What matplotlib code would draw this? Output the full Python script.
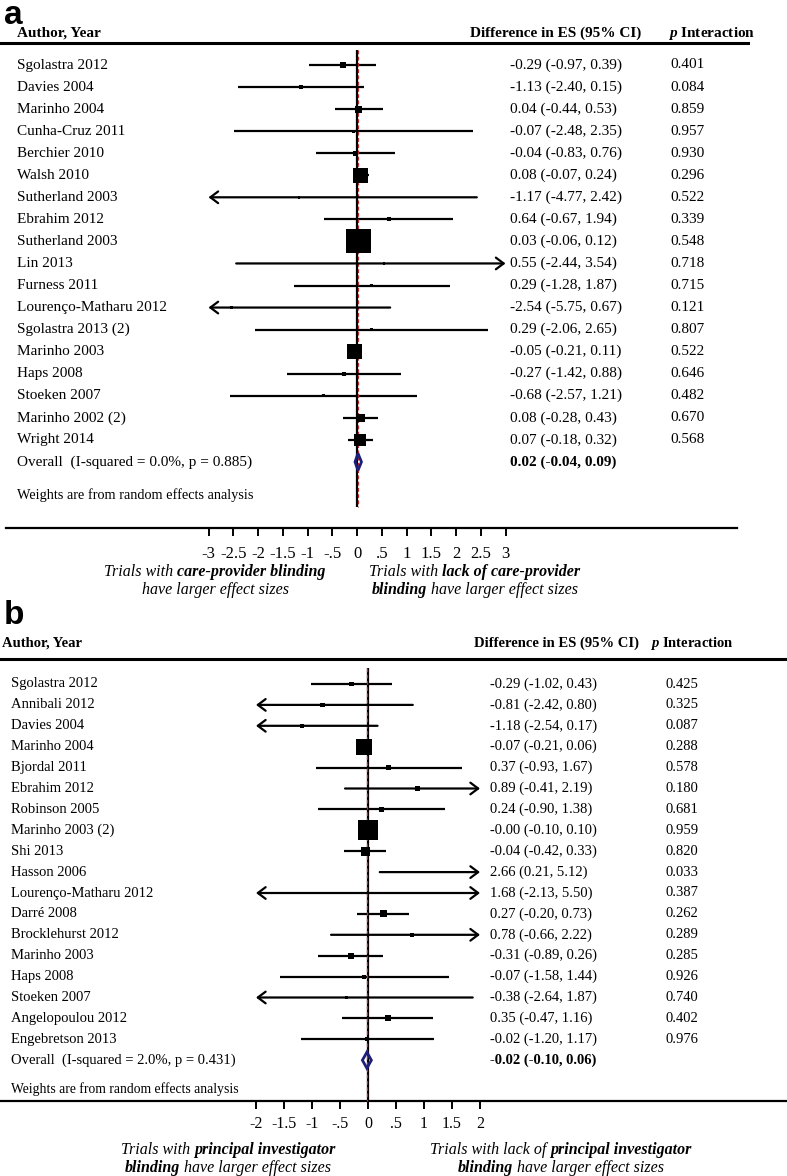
import matplotlib
matplotlib.use('Agg')
import matplotlib.pyplot as plt
import numpy as np
from matplotlib.transforms import blended_transform_factory

W, H = 787, 1176
SERIF = 'Liberation Serif'

# ---- panel a: care-provider blinding ----
names_a = ['Sgolastra 2012', 'Davies 2004', 'Marinho 2004', 'Cunha-Cruz 2011',
           'Berchier 2010', 'Walsh 2010', 'Sutherland 2003', 'Ebrahim 2012',
           'Sutherland 2003', 'Lin 2013', 'Furness 2011', 'Lourenço-Matharu 2012',
           'Sgolastra 2013 (2)', 'Marinho 2003', 'Haps 2008', 'Stoeken 2007',
           'Marinho 2002 (2)', 'Wright 2014']
est_a = [-0.29, -1.13, 0.04, -0.07, -0.04, 0.08, -1.17, 0.64, 0.03, 0.55,
         0.29, -2.54, 0.29, -0.05, -0.27, -0.68, 0.08, 0.07]
lo_a = [-0.97, -2.40, -0.44, -2.48, -0.83, -0.07, -4.77, -0.67, -0.06, -2.44,
        -1.28, -5.75, -2.06, -0.21, -1.42, -2.57, -0.28, -0.18]
hi_a = [0.39, 0.15, 0.53, 2.35, 0.76, 0.24, 2.42, 1.94, 0.12, 3.54,
        1.87, 0.67, 2.65, 0.11, 0.88, 1.21, 0.43, 0.32]
p_a = ['0.401', '0.084', '0.859', '0.957', '0.930', '0.296', '0.522', '0.339',
       '0.548', '0.718', '0.715', '0.121', '0.807', '0.522', '0.646', '0.482',
       '0.670', '0.568']
# estimated weights (%) read from square sizes
weights_a = [2.5, 1.1, 3.4, 0.6, 1.7, 15.6, 0.4, 1.1, 40.0, 0.4,
             0.6, 0.6, 0.4, 15.6, 1.1, 0.6, 4.4, 10.0]
overall_a = (0.02, -0.04, 0.09)
overall_lab_a = 'Overall  (I-squared = 0.0%, p = 0.885)'
ticks_a = [-3, -2.5, -2, -1.5, -1, -0.5, 0, 0.5, 1, 1.5, 2, 2.5, 3]
ticklab_a = ['-3', '-2.5', '-2', '-1.5', '-1', '-.5', '0', '.5', '1', '1.5', '2', '2.5', '3']

# ---- panel b: principal investigator blinding ----
names_b = ['Sgolastra 2012', 'Annibali 2012', 'Davies 2004', 'Marinho 2004',
           'Bjordal 2011', 'Ebrahim 2012', 'Robinson 2005', 'Marinho 2003 (2)',
           'Shi 2013', 'Hasson 2006', 'Lourenço-Matharu 2012', 'Darré 2008',
           'Brocklehurst 2012', 'Marinho 2003', 'Haps 2008', 'Stoeken 2007',
           'Angelopoulou 2012', 'Engebretson 2013']
est_b = [-0.29, -0.81, -1.18, -0.07, 0.37, 0.89, 0.24, -0.0, -0.04, 2.66,
         1.68, 0.27, 0.78, -0.31, -0.07, -0.38, 0.35, -0.02]
lo_b = [-1.02, -2.42, -2.54, -0.21, -0.93, -0.41, -0.90, -0.10, -0.42, 0.21,
        -2.13, -0.20, -0.66, -0.89, -1.58, -2.64, -0.47, -1.20]
hi_b = [0.43, 0.80, 0.17, 0.06, 1.67, 2.19, 1.38, 0.10, 0.33, 5.12,
        5.50, 0.73, 2.22, 0.26, 1.44, 1.87, 1.16, 1.17]
p_b = ['0.425', '0.325', '0.087', '0.288', '0.578', '0.180', '0.681', '0.959',
       '0.820', '0.033', '0.387', '0.262', '0.289', '0.285', '0.926', '0.740',
       '0.402', '0.976']
weights_b = [1.7, 1.4, 1.4, 17.7, 1.7, 1.7, 1.7, 27.7, 6.0, 0.4,
             0.4, 3.4, 1.1, 2.5, 1.1, 0.6, 2.5, 1.1]
overall_b = (-0.02, -0.10, 0.06)
overall_lab_b = 'Overall  (I-squared = 2.0%, p = 0.431)'
ticks_b = [-2, -1.5, -1, -0.5, 0, 0.5, 1, 1.5, 2]
ticklab_b = ['-2', '-1.5', '-1', '-.5', '0', '.5', '1', '1.5', '2']

plt.rcParams['mathtext.fontset'] = 'custom'
plt.rcParams['mathtext.bfit'] = 'Liberation Serif:italic:bold'

fig = plt.figure(figsize=(W / 100, H / 100), dpi=100)


def rich_line(cx, cy, parts, size=11.5):
    # parts: list of (text, bold); drawn italic, centred at pixel (cx, cy)
    r = fig.canvas.get_renderer()
    sp = fig.text(0, 0, 'a a', fontsize=size, family=SERIF, style='italic')
    sp2 = fig.text(0, 0, 'aa', fontsize=size, family=SERIF, style='italic')
    space = sp.get_window_extent(r).width - sp2.get_window_extent(r).width
    sp.remove(); sp2.remove()
    objs = [fig.text(0, 0, s, fontsize=size, family=SERIF, style='italic',
                     weight='bold' if b else 'normal', va='center') for s, b in parts]
    widths = [o.get_window_extent(r).width for o in objs]
    x = cx - (sum(widths) + space * (len(objs) - 1)) / 2
    for o, w in zip(objs, widths):
        o.set_position((x / W, 1 - cy / H))
        x += w + space


def panel(cfg, names, est, lo, hi, pv, wts, overall, overall_lab, ticks, ticklab):
    top, hgt = cfg['top'], cfg['height']
    ax = fig.add_axes([0, 1 - (top + hgt) / H, 1, hgt / H])
    z, s = cfg['zero'], cfg['scale']
    r0, dr = cfg['row0'], cfg['step']
    row = lambda py: (py - top - r0) / dr
    ax.set_xlim(-z / s, (W - z) / s)
    ax.set_ylim(row(top + hgt), row(top))
    ax.patch.set_visible(False)
    for sp in ['left', 'right', 'top']:
        ax.spines[sp].set_visible(False)
    ax.set_yticks([])
    tr = blended_transform_factory(ax.transAxes, ax.transData)
    fs = cfg['fs']
    n = len(names)
    rows = np.arange(n)
    clip = cfg['clip']

    # zero line and overall dashed line
    ax.vlines(0, row(cfg['vtop']), row(cfg['vbot']), color='black', lw=1.6, zorder=2)
    ax.vlines(overall[0], row(cfg['vtop']), row(cfg['vbot']), color='#b52a2a',
              lw=0.9, linestyles=(0, (3, 2)), zorder=3)

    # confidence intervals
    for i in rows:
        a, b = max(lo[i], -clip), min(hi[i], clip)
        left, right = lo[i] < -clip, hi[i] > clip
        if left or right:
            style = '<->' if (left and right) else ('<-' if left else '->')
            ax.annotate('', xy=(b, i), xytext=(a, i),
                        arrowprops=dict(arrowstyle=style + ',head_length=0.4,head_width=0.3',
                                        lw=1.6, color='black', shrinkA=0, shrinkB=0,
                                        mutation_scale=14))
        else:
            ax.hlines(i, a, b, color='black', lw=1.6)
    side_pt = 3.8 * np.sqrt(np.array(wts)) * 0.72
    inside = np.abs(np.array(est)) <= clip
    ax.scatter(np.array(est)[inside], rows[inside], s=side_pt[inside] ** 2, marker='s',
               color='black', linewidths=0, zorder=4)

    # overall diamond
    o, ol, oh = overall
    hh = cfg['dh'] / dr
    ax.fill([ol, o, oh, o], [n, n - hh, n, n + hh], fill=False, edgecolor='#1b1f7a',
            lw=2, zorder=5)

    # text columns
    for i in rows:
        ax.text(cfg['xname'] / W, i, names[i], transform=tr, fontsize=fs, family=SERIF,
                va='center')
        ax.text(cfg['xci'] / W, i, f'{est[i]:.2f} ({lo[i]:.2f}, {hi[i]:.2f})',
                transform=tr, fontsize=fs, family=SERIF, va='center')
        ax.text(cfg['xp'] / W, i, pv[i], transform=tr, fontsize=fs, family=SERIF,
                va='center')
    ax.text(cfg['xname'] / W, n, overall_lab, transform=tr, fontsize=fs, family=SERIF,
            va='center')
    ax.text(cfg['xci'] / W, n, f'{o:.2f} ({ol:.2f}, {oh:.2f})', transform=tr,
            fontsize=fs, family=SERIF, va='center', weight='bold')
    ax.text(cfg['xname'] / W, row(cfg['yweights']), 'Weights are from random effects analysis',
            transform=tr, fontsize=fs - 0.7, family=SERIF, va='center')

    # header
    yh = row(cfg['yhead'])
    ax.text(cfg['xhead'] / W, yh, 'Author, Year', transform=tr, fontsize=fs,
            family=SERIF, weight='bold', va='center')
    ax.text(cfg['xhci'] / W, yh, 'Difference in ES (95% CI)', transform=tr, fontsize=fs,
            family=SERIF, weight='bold', va='center')
    ax.text(cfg['xhp'] / W, yh, r'$\mathbfit{p}$ Interaction', transform=tr, fontsize=fs,
            family=SERIF, weight='bold', va='center')
    ax.plot([0, cfg['hline_end'] / W], [row(cfg['yhline'])] * 2, transform=tr,
            color='black', lw=2.2, clip_on=False)

    # x axis
    ax.spines['bottom'].set_position(('data', row(cfg['yaxis'])))
    ax.spines['bottom'].set_bounds((cfg['ax0'] - z) / s, (cfg['ax1'] - z) / s)
    ax.spines['bottom'].set_linewidth(1.6)
    ax.set_xticks(ticks)
    ax.set_xticklabels(ticklab, family=SERIF, fontsize=fs + 1)
    ax.tick_params(axis='x', direction='out', length=6, width=1.4, pad=cfg['tpad'])

    fig.text(4 / W, 1 - cfg['yletter'] / H, cfg['letter'], fontsize=24, weight='bold',
             family='Liberation Sans', va='center')
    return ax


cfg_a = dict(top=0, height=600, zero=357, scale=49.5, row0=65, step=22.05, clip=3,
             fs=11, vtop=50, vbot=507, dh=8.5, xname=17, xci=510, xp=670,
             yweights=495, yhead=33, xhead=17, xhci=470, xhp=668, yhline=43,
             hline_end=748, yaxis=528, ax0=6, ax1=737, tpad=7, yletter=15, letter='a')
cfg_b = dict(top=600, height=576, zero=368, scale=56, row0=84, step=20.9, clip=2,
             fs=10.5, vtop=668, vbot=1101, dh=8, xname=11, xci=490, xp=666,
             yweights=1089, yhead=643, xhead=2, xhci=474, xhp=650, yhline=659,
             hline_end=787, yaxis=1101, ax0=0, ax1=787, tpad=5, yletter=616, letter='b')

panel(cfg_a, names_a, est_a, lo_a, hi_a, p_a, weights_a, overall_a, overall_lab_a,
      ticks_a, ticklab_a)
panel(cfg_b, names_b, est_b, lo_b, hi_b, p_b, weights_b, overall_b, overall_lab_b,
      ticks_b, ticklab_b)

rich_line(215, 572, [('Trials with', False), ('care-provider blinding', True)])
rich_line(215, 590, [('have larger effect sizes', False)])
rich_line(475, 572, [('Trials with', False), ('lack of care-provider', True)])
rich_line(475, 590, [('blinding', True), ('have larger effect sizes', False)])
rich_line(228, 1150, [('Trials with', False), ('principal investigator', True)])
rich_line(228, 1168, [('blinding', True), ('have larger effect sizes', False)])
rich_line(561, 1150, [('Trials with lack of', False), ('principal investigator', True)])
rich_line(561, 1168, [('blinding', True), ('have larger effect sizes', False)])

fig.savefig('out.png', dpi=100)
